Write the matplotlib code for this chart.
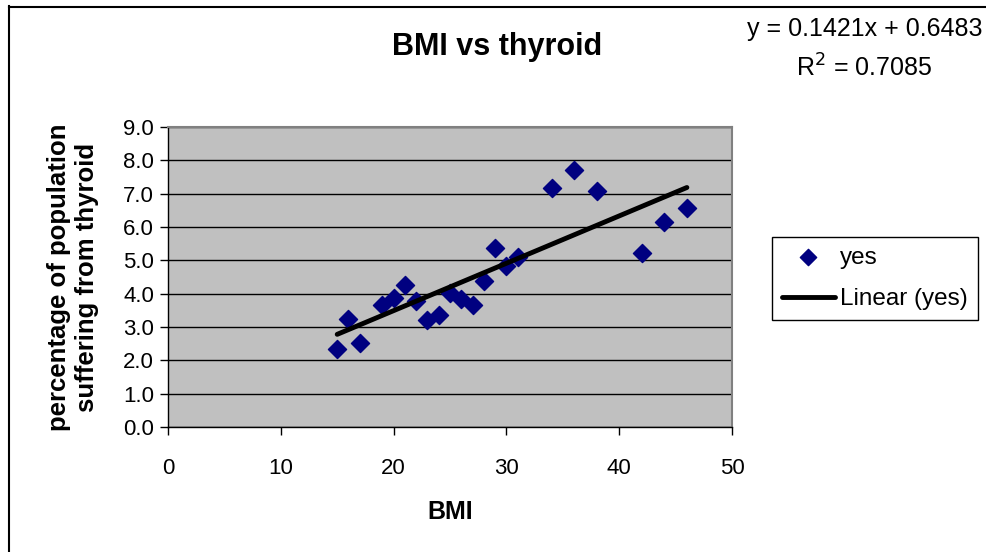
import matplotlib
matplotlib.use("Agg")
import matplotlib.pyplot as plt
from matplotlib.lines import Line2D
import numpy as np

plt.rcParams['font.family'] = ['Liberation Sans', 'DejaVu Sans']

bmi = [15, 16, 17, 19, 20, 21, 22, 23, 24, 25, 26, 27, 28, 29, 30, 31, 34, 36, 38, 42, 44, 46]
pct = [2.35, 3.24, 2.53, 3.66, 3.86, 4.27, 3.79, 3.21, 3.35, 4.02, 3.84, 3.65, 4.39, 5.38, 4.83,
       5.09, 7.18, 7.71, 7.08, 5.23, 6.15, 6.58]
slope = 0.1421
intercept = 0.6483
r2 = 0.7085
xticks = [0, 10, 20, 30, 40, 50]
yticks = [0, 1, 2, 3, 4, 5, 6, 7, 8, 9]

W, H = 987, 552
fig = plt.figure(figsize=(W / 100, H / 100), dpi=100)
ax = fig.add_axes([168 / W, 1 - 427 / H, (732 - 168) / W, 300 / H])
ax.set_facecolor('#C0C0C0')
ax.set_xlim(0, 50)
ax.set_ylim(0, 9)
ax.set_xticks(xticks)
ax.set_yticks(yticks)
ax.set_yticklabels([f"{v:.1f}" for v in yticks])
ax.grid(axis='y', color='black', linewidth=1)
ax.set_axisbelow(True)
for s in ['top', 'right']:
    ax.spines[s].set_color('#808080')
    ax.spines[s].set_linewidth(1.5)
for s in ['left', 'bottom']:
    ax.spines[s].set_color('black')
    ax.spines[s].set_linewidth(1)
ax.tick_params(axis='both', direction='out', length=6, width=1, labelsize=16)
ax.tick_params(axis='x', pad=16)
ax.tick_params(axis='y', pad=4)

ax.scatter(bmi, pct, marker='D', s=85, color='#000080', zorder=3, label='yes')
xs = np.array([min(bmi), max(bmi)])
ax.plot(xs, slope * xs + intercept, color='black', linewidth=3.5, solid_capstyle='round',
        zorder=4, label='Linear (yes)')

fig.text(450 / W, 1 - 512 / H, 'BMI', fontsize=18, fontweight='bold',
         ha='center', va='center')
fig.text(73 / W, 1 - 277 / H, 'percentage of population\nsuffering from thyroid',
         fontsize=18.5, fontweight='bold', rotation=90, ha='center', va='center',
         multialignment='center', linespacing=1.25)

fig.text(497 / W, 1 - 47 / H, 'BMI vs thyroid', fontsize=22, fontweight='bold',
         ha='center', va='center')
fig.text(983 / W, 1 - 29 / H, f'y = {slope}x + {intercept}', fontsize=18,
         ha='right', va='center')
fig.text(864 / W, 1 - 68 / H, f'R$^2$ = {r2}', fontsize=18, ha='center', va='center')

leg = fig.legend(loc='upper left', bbox_to_anchor=(772 / W, 1 - 237 / H), fontsize=17.5,
                 frameon=True, fancybox=False, edgecolor='black', framealpha=1,
                 borderpad=0.4, handlelength=2.2, handletextpad=0.2, labelspacing=0.8,
                 borderaxespad=0, markerscale=0.9)
leg.get_frame().set_linewidth(1)

fig.add_artist(Line2D([9 / W, 9 / W], [0, 1 - 6 / H], color='black', linewidth=1.5,
                      transform=fig.transFigure))
fig.add_artist(Line2D([9 / W, 1], [1 - 7 / H, 1 - 7 / H], color='black', linewidth=1.5,
                      transform=fig.transFigure))

fig.savefig('out.png', dpi=100, facecolor='white')
